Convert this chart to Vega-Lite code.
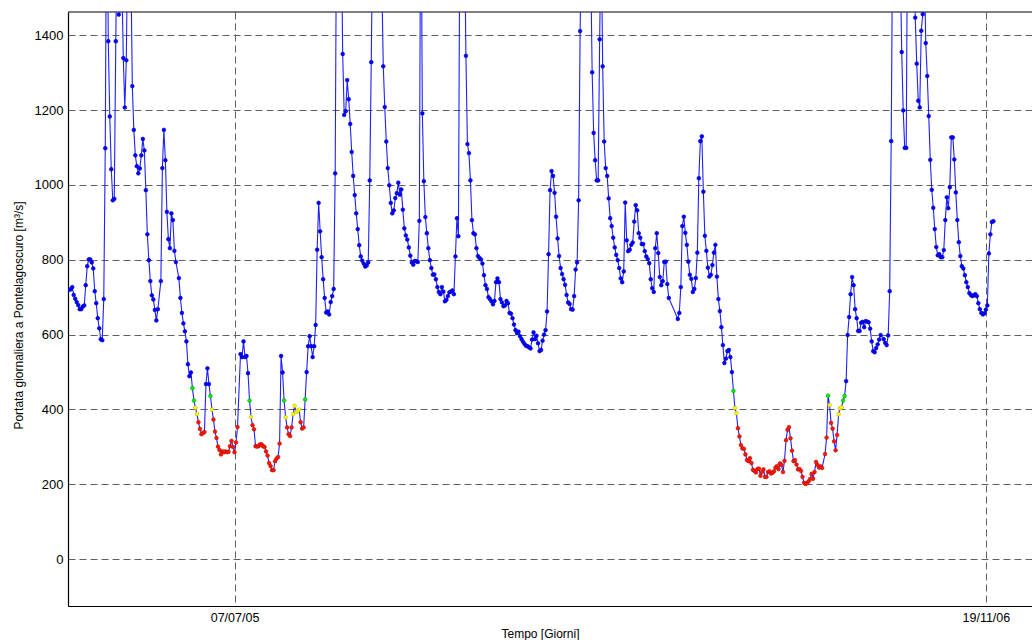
{
"$schema": "https://vega.github.io/schema/vega-lite/v6.json",
"width": 964, "height": 594,
"autosize": {"type": "none"},
"padding": {"left": 68, "top": 12, "right": 0, "bottom": 34},
"background": "white",
"config": {
 "view": {"stroke": null},
 "font": "Liberation Sans",
 "axis": {"labelFont": "Liberation Sans", "labelFontSize": 13, "labelColor": "#000", "titleFont": "Liberation Sans", "titleFontSize": 12, "titleFontWeight": "normal", "titleColor": "#000", "domainColor": "#000", "domainWidth": 1.2, "grid": true, "gridColor": "#606060", "gridDash": [7, 4], "gridWidth": 1, "gridOpacity": 1, "ticks": false, "labelPadding": 5}
},
"datasets": {"serie": [
{"giorno":-110,"portata":720},{"giorno":-109,"portata":721},{"giorno":-108,"portata":727},{"giorno":-107,"portata":706},{"giorno":-106,"portata":696},{"giorno":-105,"portata":687},{"giorno":-104,"portata":679},{"giorno":-103,"portata":668},{"giorno":-102,"portata":668},{"giorno":-101,"portata":675},{"giorno":-100,"portata":678},{"giorno":-99,"portata":732},{"giorno":-98,"portata":783},{"giorno":-97,"portata":801},{"giorno":-96,"portata":801},{"giorno":-95,"portata":793},{"giorno":-94,"portata":777},{"giorno":-93,"portata":716},{"giorno":-92,"portata":684},{"giorno":-91,"portata":644},{"giorno":-90,"portata":617},{"giorno":-89,"portata":588},{"giorno":-88,"portata":585},{"giorno":-87,"portata":695},{"giorno":-86,"portata":1098},{"giorno":-85,"portata":1900},{"giorno":-84,"portata":1384},{"giorno":-83,"portata":1183},{"giorno":-82,"portata":1042},{"giorno":-81,"portata":959},{"giorno":-80,"portata":963},{"giorno":-79,"portata":1384},{"giorno":-78,"portata":1750},{"giorno":-77,"portata":1455},{"giorno":-76,"portata":1750},{"giorno":-75,"portata":1550},{"giorno":-74,"portata":1339},{"giorno":-73,"portata":1207},{"giorno":-72,"portata":1333},{"giorno":-71,"portata":1700},{"giorno":-70,"portata":1900},{"giorno":-69,"portata":1600},{"giorno":-68,"portata":1264},{"giorno":-67,"portata":1147},{"giorno":-66,"portata":1079},{"giorno":-65,"portata":1050},{"giorno":-64,"portata":1031},{"giorno":-63,"portata":1044},{"giorno":-62,"portata":1079},{"giorno":-61,"portata":1123},{"giorno":-60,"portata":1092},{"giorno":-59,"portata":986},{"giorno":-58,"portata":868},{"giorno":-57,"portata":799},{"giorno":-56,"portata":743},{"giorno":-55,"portata":705},{"giorno":-54,"portata":694},{"giorno":-53,"portata":666},{"giorno":-52,"portata":638},{"giorno":-51,"portata":668},{"giorno":-49,"portata":743},{"giorno":-48,"portata":1045},{"giorno":-47,"portata":1147},{"giorno":-46,"portata":1066},{"giorno":-45,"portata":928},{"giorno":-44,"portata":855},{"giorno":-43,"portata":831},{"giorno":-42,"portata":924},{"giorno":-41,"portata":906},{"giorno":-40,"portata":824},{"giorno":-39,"portata":794},{"giorno":-37,"portata":751},{"giorno":-36,"portata":698},{"giorno":-35,"portata":658},{"giorno":-34,"portata":630},{"giorno":-33,"portata":609},{"giorno":-32,"portata":582},{"giorno":-31,"portata":521},{"giorno":-30,"portata":489},{"giorno":-29,"portata":499},{"giorno":-28,"portata":457},{"giorno":-27,"portata":424},{"giorno":-26,"portata":405},{"giorno":-25,"portata":388},{"giorno":-24,"portata":366},{"giorno":-23,"portata":348},{"giorno":-22,"portata":334},{"giorno":-21,"portata":337},{"giorno":-20,"portata":340},{"giorno":-19,"portata":468},{"giorno":-18,"portata":510},{"giorno":-17,"portata":468},{"giorno":-16,"portata":436},{"giorno":-15,"portata":400},{"giorno":-14,"portata":373},{"giorno":-13,"portata":341},{"giorno":-12,"portata":324},{"giorno":-11,"portata":301},{"giorno":-10,"portata":292},{"giorno":-9,"portata":280},{"giorno":-8,"portata":288},{"giorno":-7,"portata":286},{"giorno":-6,"portata":288},{"giorno":-5,"portata":286},{"giorno":-4,"portata":287},{"giorno":-3,"portata":302},{"giorno":-2,"portata":316},{"giorno":-1,"portata":300},{"giorno":0,"portata":286},{"giorno":1,"portata":312},{"giorno":2,"portata":353},
{"giorno":4,"portata":548},{"giorno":5,"portata":540},{"giorno":6,"portata":582},{"giorno":7,"portata":540},{"giorno":8,"portata":543},{"giorno":9,"portata":497},{"giorno":10,"portata":424},{"giorno":11,"portata":380},{"giorno":12,"portata":358},{"giorno":13,"portata":347},{"giorno":14,"portata":302},{"giorno":15,"portata":301},{"giorno":16,"portata":302},{"giorno":17,"portata":307},{"giorno":18,"portata":307},{"giorno":19,"portata":302},{"giorno":20,"portata":300},{"giorno":21,"portata":288},{"giorno":22,"portata":277},{"giorno":23,"portata":257},{"giorno":24,"portata":249},{"giorno":25,"portata":238},{"giorno":26,"portata":238},{"giorno":27,"portata":262},{"giorno":28,"portata":269},{"giorno":29,"portata":273},{"giorno":30,"portata":309},{"giorno":31,"portata":543},{"giorno":32,"portata":499},{"giorno":33,"portata":424},{"giorno":34,"portata":379},{"giorno":35,"portata":352},{"giorno":36,"portata":334},{"giorno":37,"portata":329},{"giorno":38,"portata":352},{"giorno":39,"portata":388},{"giorno":40,"portata":410},{"giorno":41,"portata":393},{"giorno":42,"portata":396},{"giorno":43,"portata":400},{"giorno":44,"portata":366},{"giorno":45,"portata":349},{"giorno":46,"portata":352},{"giorno":47,"portata":427},{"giorno":48,"portata":500},{"giorno":49,"portata":569},{"giorno":50,"portata":596},{"giorno":51,"portata":569},{"giorno":52,"portata":540},{"giorno":53,"portata":569},{"giorno":54,"portata":626},{"giorno":55,"portata":827},{"giorno":56,"portata":952},{"giorno":57,"portata":876},{"giorno":58,"portata":807},{"giorno":59,"portata":748},{"giorno":60,"portata":698},{"giorno":61,"portata":659},{"giorno":62,"portata":662},{"giorno":63,"portata":654},{"giorno":64,"portata":687},{"giorno":65,"portata":703},{"giorno":66,"portata":722},{"giorno":67,"portata":1031},{"giorno":68,"portata":1800},{"giorno":69,"portata":2200},{"giorno":70,"portata":2000},{"giorno":71,"portata":1700},{"giorno":72,"portata":1350},{"giorno":73,"portata":1187},{"giorno":74,"portata":1197},{"giorno":75,"portata":1280},{"giorno":76,"portata":1229},{"giorno":77,"portata":1163},{"giorno":78,"portata":1088},{"giorno":79,"portata":1024},{"giorno":80,"portata":973},{"giorno":81,"portata":924},{"giorno":82,"portata":882},{"giorno":83,"portata":839},{"giorno":84,"portata":809},{"giorno":85,"portata":798},{"giorno":86,"portata":790},{"giorno":87,"portata":782},{"giorno":88,"portata":785},{"giorno":89,"portata":793},{"giorno":90,"portata":1012},{"giorno":91,"portata":1328},{"giorno":92,"portata":1700},{"giorno":93,"portata":2100},{"giorno":94,"portata":2400},{"giorno":95,"portata":2200},{"giorno":96,"portata":1900},{"giorno":97,"portata":1700},{"giorno":98,"portata":1550},{"giorno":99,"portata":1317},{"giorno":100,"portata":1208},{"giorno":101,"portata":1116},{"giorno":102,"portata":1045},{"giorno":103,"portata":999},{"giorno":104,"portata":952},{"giorno":105,"portata":924},{"giorno":106,"portata":932},{"giorno":107,"portata":965},{"giorno":108,"portata":978},{"giorno":109,"portata":1006},{"giorno":110,"portata":974},{"giorno":111,"portata":988},{"giorno":112,"portata":934},{"giorno":113,"portata":884},{"giorno":114,"portata":865},{"giorno":115,"portata":854},{"giorno":116,"portata":833},{"giorno":117,"portata":811},{"giorno":118,"portata":793},{"giorno":119,"portata":787},{"giorno":120,"portata":797},{"giorno":121,"portata":796},{"giorno":122,"portata":794},{"giorno":123,"portata":904},{"giorno":124,"portata":1900},{"giorno":125,"portata":1191},{"giorno":126,"portata":1010},{"giorno":127,"portata":914},{"giorno":128,"portata":871},{"giorno":129,"portata":831},{"giorno":130,"portata":799},{"giorno":131,"portata":778},{"giorno":132,"portata":760},{"giorno":133,"portata":761},{"giorno":134,"portata":748},{"giorno":135,"portata":727},{"giorno":136,"portata":714},{"giorno":137,"portata":708},{"giorno":138,"portata":727},{"giorno":139,"portata":715},{"giorno":140,"portata":689},{"giorno":141,"portata":693},{"giorno":142,"portata":703},{"giorno":143,"portata":713},{"giorno":144,"portata":715},{"giorno":145,"portata":718},{"giorno":146,"portata":708},{"giorno":147,"portata":809},{"giorno":148,"portata":911},{"giorno":149,"portata":863},{"giorno":150,"portata":1750},{"giorno":151,"portata":2100},{"giorno":152,"portata":2000},{"giorno":153,"portata":1700},{"giorno":154,"portata":1345},{"giorno":155,"portata":1109},{"giorno":156,"portata":1085},{"giorno":157,"portata":1012},{"giorno":158,"portata":906},{"giorno":159,"portata":871},{"giorno":160,"portata":868},{"giorno":161,"portata":831},{"giorno":162,"portata":810},{"giorno":163,"portata":805},{"giorno":164,"portata":801},{"giorno":165,"portata":790},{"giorno":166,"portata":759},{"giorno":167,"portata":732},{"giorno":168,"portata":722},{"giorno":169,"portata":700},{"giorno":170,"portata":695},{"giorno":171,"portata":689},{"giorno":172,"portata":681},{"giorno":173,"portata":690},{"giorno":174,"portata":740},{"giorno":175,"portata":750},{"giorno":176,"portata":740},{"giorno":177,"portata":695},{"giorno":178,"portata":686},{"giorno":179,"portata":676},{"giorno":180,"portata":678},{"giorno":181,"portata":690},{"giorno":182,"portata":684},{"giorno":183,"portata":658},{"giorno":184,"portata":656},{"giorno":185,"portata":644},{"giorno":186,"portata":627},{"giorno":187,"portata":612},{"giorno":188,"portata":604},{"giorno":189,"portata":608},{"giorno":190,"portata":596},{"giorno":191,"portata":588},{"giorno":192,"portata":581},{"giorno":193,"portata":575},{"giorno":194,"portata":570},{"giorno":195,"portata":569},{"giorno":196,"portata":566},{"giorno":197,"portata":563},{"giorno":198,"portata":587},{"giorno":199,"portata":606},{"giorno":200,"portata":588},{"giorno":201,"portata":597},{"giorno":202,"portata":577},{"giorno":203,"portata":556},{"giorno":204,"portata":559},{"giorno":205,"portata":584},{"giorno":206,"portata":600},{"giorno":207,"portata":612},{"giorno":208,"portata":662},{"giorno":209,"portata":815},{"giorno":210,"portata":986},{"giorno":211,"portata":1037},{"giorno":212,"portata":1024},{"giorno":213,"portata":979},{"giorno":214,"portata":915},{"giorno":215,"portata":857},{"giorno":216,"portata":810},{"giorno":217,"portata":778},{"giorno":218,"portata":762},{"giorno":219,"portata":748},{"giorno":220,"portata":733},{"giorno":221,"portata":706},{"giorno":222,"portata":686},{"giorno":223,"portata":682},{"giorno":224,"portata":668},{"giorno":225,"portata":667},{"giorno":226,"portata":703},{"giorno":227,"portata":774},{"giorno":228,"portata":793},{"giorno":229,"portata":959},{"giorno":230,"portata":1411},{"giorno":231,"portata":1700},{"giorno":232,"portata":2100},{"giorno":233,"portata":2400},{"giorno":234,"portata":2300},{"giorno":235,"portata":2000},{"giorno":236,"portata":1800},{"giorno":237,"portata":1600},{"giorno":238,"portata":1301},{"giorno":239,"portata":1139},{"giorno":240,"portata":1066},{"giorno":241,"portata":1012},{"giorno":242,"portata":1012},{"giorno":243,"portata":1389},{"giorno":244,"portata":1700},{"giorno":245,"portata":1317},{"giorno":246,"portata":1116},{"giorno":247,"portata":1045},{"giorno":248,"portata":1024},{"giorno":249,"portata":964},{"giorno":250,"portata":911},{"giorno":251,"portata":890},{"giorno":252,"portata":859},{"giorno":253,"portata":833},{"giorno":254,"portata":813},{"giorno":255,"portata":799},{"giorno":256,"portata":778},{"giorno":257,"portata":750},{"giorno":258,"portata":740},{"giorno":259,"portata":769},{"giorno":260,"portata":953},{"giorno":261,"portata":852},{"giorno":262,"portata":823},{"giorno":263,"portata":827},{"giorno":264,"portata":840},{"giorno":265,"portata":846},{"giorno":266,"portata":902},{"giorno":267,"portata":946},{"giorno":268,"portata":932},{"giorno":269,"portata":871},{"giorno":270,"portata":859},{"giorno":271,"portata":842},{"giorno":272,"portata":842},{"giorno":273,"portata":823},{"giorno":274,"portata":809},{"giorno":275,"portata":802},{"giorno":276,"portata":791},{"giorno":277,"portata":748},{"giorno":278,"portata":724},{"giorno":279,"portata":714},{"giorno":280,"portata":831},{"giorno":281,"portata":871},{"giorno":282,"portata":818},{"giorno":283,"portata":754},{"giorno":284,"portata":732},{"giorno":285,"portata":743},{"giorno":286,"portata":794},{"giorno":287,"portata":795},{"giorno":288,"portata":735},{"giorno":289,"portata":698},{"giorno":295,"portata":642},{"giorno":296,"portata":658},{"giorno":297,"portata":727},{"giorno":298,"portata":890},{"giorno":299,"portata":915},{"giorno":300,"portata":872},{"giorno":301,"portata":840},{"giorno":302,"portata":795},{"giorno":303,"portata":760},{"giorno":304,"portata":749},{"giorno":305,"portata":714},{"giorno":306,"portata":722},{"giorno":307,"portata":751},{"giorno":308,"portata":819},{"giorno":309,"portata":1018},{"giorno":310,"portata":1117},{"giorno":311,"portata":1130},{"giorno":312,"portata":982},{"giorno":313,"portata":864},{"giorno":314,"portata":824},{"giorno":315,"portata":779},{"giorno":316,"portata":755},{"giorno":317,"portata":760},{"giorno":318,"portata":786},{"giorno":319,"portata":819},{"giorno":320,"portata":840},{"giorno":321,"portata":755},{"giorno":322,"portata":695},{"giorno":323,"portata":663},{"giorno":324,"portata":620},{"giorno":325,"portata":572},{"giorno":326,"portata":524},{"giorno":327,"portata":536},{"giorno":328,"portata":556},{"giorno":329,"portata":559},{"giorno":330,"portata":540},{"giorno":331,"portata":500},{"giorno":332,"portata":450},{"giorno":333,"portata":404},{"giorno":334,"portata":390},{"giorno":335,"portata":350},{"giorno":336,"portata":328},{"giorno":337,"portata":305},{"giorno":338,"portata":296},{"giorno":339,"portata":295},{"giorno":340,"portata":280},{"giorno":341,"portata":265},{"giorno":342,"portata":262},{"giorno":343,"portata":270},{"giorno":344,"portata":257},{"giorno":345,"portata":239},{"giorno":346,"portata":236},{"giorno":347,"portata":232},{"giorno":348,"portata":241},{"giorno":349,"portata":242},{"giorno":350,"portata":223},{"giorno":351,"portata":233},{"giorno":352,"portata":240},{"giorno":353,"portata":220},{"giorno":354,"portata":220},{"giorno":355,"portata":233},{"giorno":356,"portata":235},{"giorno":357,"portata":229},{"giorno":358,"portata":231},{"giorno":359,"portata":235},{"giorno":360,"portata":245},{"giorno":361,"portata":249},{"giorno":362,"portata":241},{"giorno":363,"portata":256},{"giorno":364,"portata":252},{"giorno":365,"portata":233},{"giorno":366,"portata":263},{"giorno":367,"portata":318},{"giorno":368,"portata":346},{"giorno":369,"portata":353},{"giorno":370,"portata":323},{"giorno":371,"portata":290},{"giorno":372,"portata":262},{"giorno":373,"portata":265},{"giorno":374,"portata":253},{"giorno":375,"portata":240},{"giorno":376,"portata":241},{"giorno":377,"portata":236},{"giorno":378,"portata":220},{"giorno":379,"portata":204},{"giorno":380,"portata":201},{"giorno":381,"portata":203},{"giorno":382,"portata":208},{"giorno":383,"portata":214},{"giorno":384,"portata":228},{"giorno":385,"portata":215},{"giorno":386,"portata":233},{"giorno":387,"portata":260},{"giorno":388,"portata":252},{"giorno":389,"portata":245},{"giorno":390,"portata":248},{"giorno":391,"portata":244},{"giorno":393,"portata":281},{"giorno":394,"portata":325},{"giorno":395,"portata":437},{"giorno":396,"portata":412},{"giorno":397,"portata":364},{"giorno":398,"portata":349},{"giorno":399,"portata":315},{"giorno":400,"portata":291},{"giorno":401,"portata":332},{"giorno":402,"portata":387},{"giorno":403,"portata":403},{"giorno":404,"portata":406},{"giorno":405,"portata":424},{"giorno":406,"portata":436},{"giorno":407,"portata":476},{"giorno":408,"portata":599},{"giorno":409,"portata":647},{"giorno":410,"portata":708},{"giorno":411,"portata":754},{"giorno":412,"portata":732},{"giorno":413,"portata":668},{"giorno":414,"portata":644},{"giorno":415,"portata":610},{"giorno":416,"portata":610},{"giorno":417,"portata":632},{"giorno":418,"portata":634},{"giorno":419,"portata":620},{"giorno":420,"portata":636},{"giorno":421,"portata":635},{"giorno":422,"portata":633},{"giorno":423,"portata":616},{"giorno":424,"portata":582},{"giorno":425,"portata":556},{"giorno":426,"portata":553},{"giorno":427,"portata":564},{"giorno":428,"portata":574},{"giorno":429,"portata":587},{"giorno":430,"portata":599},{"giorno":432,"portata":588},{"giorno":433,"portata":578},{"giorno":434,"portata":572},{"giorno":435,"portata":598},{"giorno":436,"portata":716},{"giorno":437,"portata":1117},{"giorno":438,"portata":1700},{"giorno":439,"portata":2100},{"giorno":440,"portata":2400},{"giorno":441,"portata":2200},{"giorno":442,"portata":1900},{"giorno":443,"portata":1600},{"giorno":444,"portata":1355},{"giorno":445,"portata":1199},{"giorno":446,"portata":1099},{"giorno":447,"portata":1099},{"giorno":448,"portata":1800},{"giorno":449,"portata":2200},{"giorno":450,"portata":2500},{"giorno":451,"portata":2300},{"giorno":452,"portata":1900},{"giorno":453,"portata":1447},{"giorno":454,"portata":1324},{"giorno":455,"portata":1225},{"giorno":456,"portata":1207},{"giorno":457,"portata":1412},{"giorno":458,"portata":1456},{"giorno":459,"portata":1600},{"giorno":460,"portata":1379},{"giorno":461,"portata":1291},{"giorno":462,"portata":1184},{"giorno":463,"portata":1067},{"giorno":464,"portata":987},{"giorno":465,"portata":939},{"giorno":466,"portata":882},{"giorno":467,"portata":834},{"giorno":468,"portata":812},{"giorno":469,"portata":815},{"giorno":470,"portata":807},{"giorno":471,"portata":807},{"giorno":472,"portata":826},{"giorno":473,"portata":906},{"giorno":474,"portata":967},{"giorno":475,"portata":938},{"giorno":476,"portata":994},{"giorno":477,"portata":1127},{"giorno":478,"portata":1127},{"giorno":479,"portata":1068},{"giorno":480,"portata":980},{"giorno":481,"portata":906},{"giorno":482,"portata":847},{"giorno":483,"portata":810},{"giorno":484,"portata":783},{"giorno":485,"portata":777},{"giorno":486,"portata":759},{"giorno":487,"portata":740},{"giorno":488,"portata":727},{"giorno":489,"portata":711},{"giorno":490,"portata":706},{"giorno":491,"portata":703},{"giorno":492,"portata":705},{"giorno":493,"portata":708},{"giorno":494,"portata":703},{"giorno":495,"portata":684},{"giorno":496,"portata":668},{"giorno":497,"portata":658},{"giorno":498,"portata":654},{"giorno":499,"portata":657},{"giorno":500,"portata":667},{"giorno":501,"portata":678},{"giorno":502,"portata":817},{"giorno":503,"portata":868},{"giorno":504,"portata":901},{"giorno":505,"portata":903}
]},
"layer": [
 {
  "data": {"values": [{}]},
  "mark": {"type": "rule", "color": "#000", "strokeWidth": 1.2},
  "encoding": {"y": {"datum": 1462, "type": "quantitative"}}
 },
 {
  "data": {"name": "serie"},
  "mark": {"type": "line", "color": "#2020ff", "strokeWidth": 1.1, "clip": true},
  "encoding": {
   "x": {"field": "giorno", "type": "quantitative", "scale": {"domain": [-110.8, 530.7], "nice": false, "zero": false},
    "axis": {"values": [0, 500], "labelExpr": "datum.value == 0 ? '07/07/05' : '19/11/06'", "title": "Tempo [Giorni]", "titleX": 472, "titleY": 31, "titleAlign": "center", "titleBaseline": "alphabetic", "labelFontSize": 12.5}},
   "y": {"field": "portata", "type": "quantitative", "scale": {"domain": [-125, 1462], "nice": false, "zero": false},
    "axis": {"values": [0, 200, 400, 600, 800, 1000, 1200, 1400], "format": "d", "title": "Portata giornaliera a Pontelagoscuro [m³/s]", "titleX": -50, "titleY": 303, "titleAngle": -90, "titleAlign": "center", "titleBaseline": "middle"}}
  }
 },
 {
  "data": {"name": "serie"},
  "mark": {"type": "circle", "size": 14, "opacity": 1, "strokeWidth": 0.6, "clip": true},
  "encoding": {
   "x": {"field": "giorno", "type": "quantitative"},
   "y": {"field": "portata", "type": "quantitative"},
   "fill": {"field": "portata", "type": "quantitative", "scale": {"type": "threshold", "domain": [375, 418, 462], "range": ["#ff1500", "#ffff00", "#00f000", "#0000ff"]}, "legend": null},
   "stroke": {"field": "portata", "type": "quantitative", "scale": {"type": "threshold", "domain": [375, 418, 462], "range": ["#c01000", "#b8b800", "#00a800", "#0000c8"]}, "legend": null}
  }
 }
]
}
